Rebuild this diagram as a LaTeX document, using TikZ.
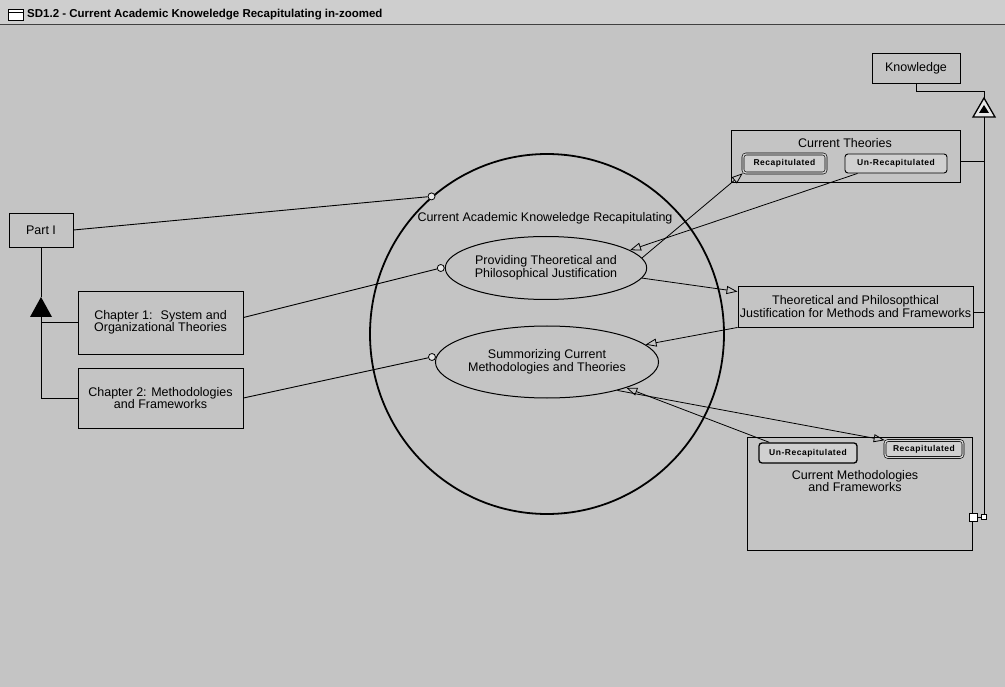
\documentclass[tikz,border=0pt]{standalone}
\usepackage{fontspec}
\setmainfont{Liberation Sans}
\newfontfamily\statefont[LetterSpace=6]{Liberation Sans}
\usetikzlibrary{arrows.meta,calc,shapes.geometric}
\definecolor{bg}{RGB}{196,196,196}
\definecolor{barbg}{RGB}{206,206,206}
\begin{document}
\begin{tikzpicture}[x=1pt,y=-1pt,
  line/.style={line width=0.9pt},
  txt/.style={inner sep=0pt, align=center, font=\fontsize{12.5}{12.5}\selectfont},
  obj/.style={draw, line width=0.9pt, inner sep=0pt, align=center, font=\fontsize{12.5}{12.5}\selectfont},
  proc/.style={ellipse, draw, line width=1pt, inner sep=0pt, align=center, font=\fontsize{12.5}{12.5}\selectfont},
  stateR/.style={draw, double=bg!80!white, double distance=1.4pt, line width=0.6pt, rounded corners=3pt, inner sep=0pt, fill=bg!80!white, font=\statefont\bfseries\fontsize{8.5}{9}\selectfont},
  stateU/.style={draw, line width=0.9pt, rounded corners=3pt, inner sep=0pt, fill=bg!80!white, font=\statefont\bfseries\fontsize{8.5}{9}\selectfont},
  agentc/.style={circle, draw, fill=bg!40!white, inner sep=0pt, minimum size=7pt, line width=0.8pt},
  link/.style={line width=0.8pt, -{Triangle[open,length=11pt,width=8pt]}},
  sqr/.style={draw, fill=white, inner sep=0pt, line width=0.7pt}
]
\useasboundingbox (0,0) rectangle (1005,687);
\fill[bg] (0,0) rectangle (1005,687);
\fill[barbg] (0,0) rectangle (1005,24);
\draw[line width=1.2pt, black!75] (0,24.5) -- (1005,24.5);
% window icon
\draw[fill=white, line width=0.7pt] (8,9) rectangle (23,20);
\draw[line width=0.7pt] (8,12) -- (23,12);
\node[anchor=west, inner sep=0pt, font=\bfseries\fontsize{11.5}{11.5}\selectfont] (title) at (27,15) {SD1.2 - Current Academic Knoweledge Recapitulating in-zoomed};

% left objects
\node[obj, minimum width=64pt, minimum height=34pt] (part) at (41,230) {Part I};
\node[obj, minimum width=165pt, minimum height=63pt] (ch1) at (160.5,322.5) {Chapter 1:~ System and\\Organizational Theories};
\node[obj, minimum width=165pt, minimum height=60pt] (ch2) at (160.5,398) {Chapter 2: Methodologies\\and Frameworks};

% aggregation
\coordinate (aggtop) at (41,297);
\coordinate (aggbot) at (41,317);
\draw[line] (part.south) -- (aggtop);
\fill (aggtop) -- (52,317) -- (30,317) -- cycle;
\draw[line] (aggbot) |- (ch2.west);
\draw[line] (aggbot |- ch1.west) -- (ch1.west);

% main process
\node[ellipse, draw, line width=1.8pt, minimum width=354pt, minimum height=360pt, inner sep=0pt] (big) at (547,334) {};
\node[txt] (biglabel) at (545,218) {Current Academic Knoweledge Recapitulating};
\node[proc, minimum width=186pt, minimum height=63pt] (e1) at (546,268) {Providing Theoretical and\\Philosophical Justification};
\node[proc, minimum width=202pt, minimum height=72pt] (e2) at (547,362) {Summorizing Current\\Methodologies and Theories};

% agent links
\node[agentc] (ag1) at (big.130) {};
\node[agentc] (ag2) at ($(e1.west)+(-4,0)$) {};
\node[agentc] (ag3) at ($(e2.west)+(-3,-5)$) {};
\draw[line] (part.east) -- (ag1);
\draw[line] ([yshift=5pt]ch1.east) -- (ag2);
\draw[line] (ch2.east) -- (ag3);

% right objects
\node[obj, minimum width=229pt, minimum height=52pt] (ct) at (845.5,156) {};
\node[txt] (ctlabel) at (845,143) {Current Theories};
\node[stateR, minimum width=83pt, minimum height=19pt] (ctR) at (784.5,163.5) {Recapitulated};
\node[stateU, minimum width=102pt, minimum height=19pt] (ctU) at (896,163.5) {Un-Recapitulated};

\node[obj, minimum width=235pt, minimum height=41pt] (tp) at (855.5,306.5) {Theoretical and Philosopthical\\Justification for Methods and Frameworks};

\node[obj, minimum width=225pt, minimum height=113pt] (cm) at (859.5,493.5) {};
\node[txt] (cmlabel) at (855,481) {Current Methodologies\\and Frameworks};
\node[stateU, line width=1.3pt, minimum width=98pt, minimum height=20pt] (cmU) at (808,453) {Un-Recapitulated};
\node[stateR, minimum width=78pt, minimum height=17pt] (cmR) at (924,449) {Recapitulated};

\node[obj, minimum width=88pt, minimum height=30pt] (kn) at (916,68) {Knowledge};

% exhibition
\coordinate (exa) at (984,98);
\coordinate (exb) at (984,117);
\draw[line] (kn.south) |- ($(exa)+(0,-7)$) -- (exa);
\draw[line width=1.3pt, fill=bg!40!white] (exa) -- (995,117) -- (973,117) -- cycle;
\fill (984,105) -- (989,113) -- (979,113) -- cycle;
\node[sqr, minimum size=5pt] (sq2) at (984,517) {};
\node[sqr, minimum size=8pt] (sq1) at (973,517) {};
\draw[line] (exb) -- (sq2.north);
\draw[line] (sq1) -- (sq2);
\draw[line] (ct.east |- 0,161) -- (exb |- 0,161);
\draw[line] (tp.east |- 0,312) -- (exb |- 0,312);

% effect links
\draw[link] (e1.6) -- (ctR.south west);
\draw[link] ([xshift=13pt]ctU.south west) -- (e1.12);
\draw[link] (e1.-6) -- ([yshift=-6pt]tp.north west);
\draw[link] (tp.south west) -- (e2.10);
\draw[link] ([xshift=11pt]cmU.north west) -- (e2.-18);
\draw[link] (e2.-22) -- (cmR.north west);
\end{tikzpicture}
\end{document}
